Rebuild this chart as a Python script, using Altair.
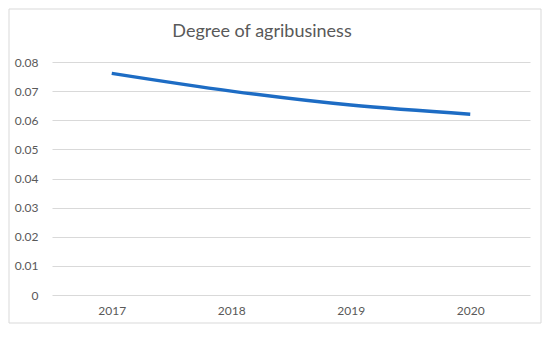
import altair as alt
import pandas as pd

years = ["2017", "2018", "2019", "2020"]
values = [0.0761, 0.0700, 0.0652, 0.0621]
y_ticks = [0, 0.01, 0.02, 0.03, 0.04, 0.05, 0.06, 0.07, 0.08]

df = pd.DataFrame({"year": years, "value": values})

FONT = "Lato"
GREY = "#595959"

line = alt.Chart(df).mark_line(
    color="#1d6cc4", strokeWidth=3.5, interpolate="monotone"
).encode(
    x=alt.X(
        "year:N", sort=years,
        scale=alt.Scale(type="point", padding=0.5),
        axis=alt.Axis(title=None, labelAngle=0, ticks=False, domain=False, grid=False,
                      labelPadding=10, labelFontSize=12, labelColor=GREY, labelFont=FONT),
    ),
    y=alt.Y(
        "value:Q",
        scale=alt.Scale(domain=[0, 0.08], nice=False, zero=True),
        axis=alt.Axis(title=None, values=y_ticks, ticks=False, domain=False,
                      labelExpr="datum.value == 0 ? '0' : format(datum.value, '.2f')",
                      gridColor="#d9d9d9", gridWidth=1, labelPadding=14,
                      labelFontSize=12, labelColor=GREY, labelFont=FONT),
    ),
)

border = alt.Chart(pd.DataFrame({"k": [0]})).mark_rect(
    fillOpacity=0, stroke="#d9d9d9", strokeWidth=1
).encode(
    x=alt.value(-43), x2=alt.value(489), y=alt.value(-53), y2=alt.value(261)
)

chart = alt.layer(line, border).properties(
    width=478, height=233,
    padding={"left": 44, "top": 54, "right": 12, "bottom": 29},
    autosize=alt.AutoSizeParams(type="none"),
    title=alt.TitleParams("Degree of agribusiness", fontSize=18, font=FONT, color=GREY,
                          fontWeight="normal", anchor="middle", dx=-29, dy=46, offset=14),
).configure_view(stroke=None)

chart.save("out.html", embed_options={"renderer": "svg", "actions": False})
